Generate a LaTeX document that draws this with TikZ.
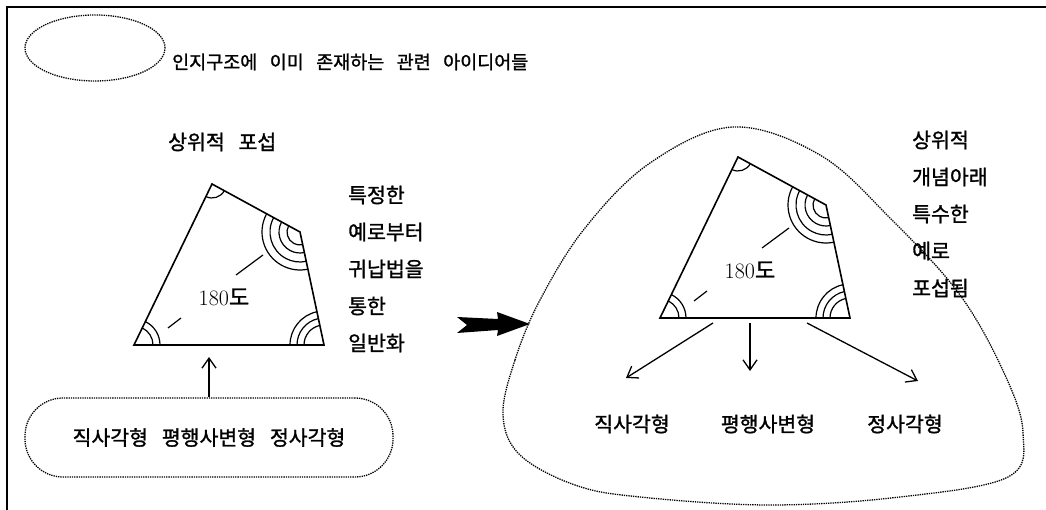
\documentclass[tikz,border=0pt]{standalone}
\usepackage{fontspec}
\newfontfamily\kr{Noto Sans CJK KR}[WordSpace=3, FakeBold=1.3]
\usetikzlibrary{angles, arrows.meta, shapes.geometric}

\tikzset{
	kortext/.style = {font = \kr\fontsize{20.5}{24}\selectfont, inner sep = 0pt},
	headtext/.style = {font = \kr\fontsize{18.5}{22}\selectfont, inner sep = 0pt},
	sumtext/.style = {font = \fontsize{22}{24}\selectfont, inner sep = 0pt},
	dots/.style = {densely dotted, line width = 1.3pt},
	edge/.style = {line width = 1.6pt},
	angmark/.style = {draw, line width = 1.2pt},
	pointer/.style = {->, line width = 1.3pt}
}

\begin{document}
\begin{tikzpicture}[x = 1pt, y = -1pt, >={Straight Barb[length = 10pt, width = 14pt]}]

	\useasboundingbox (0, 0) rectangle (1046, 510);

	% Frame
	
	\draw [edge] (7, 510) -- (7, 7) -- (1046, 7);
	
	% Legend
	
	\node [ellipse, draw, dots, minimum width = 140pt, minimum height = 66pt, inner sep = 0pt] (legend) at (95, 48) {};
	\node [headtext, anchor = west] (legendtext) at (172, 62) {인지구조에 이미 존재하는 관련 아이디어들};
	
	% Quadrilaterals with angle marks
	
	\foreach \s/\dx/\dy in {L/0/0, R/526/-27}
	{
		\begin{scope}[shift = {(\dx, \dy)}]
			\coordinate (\s A) at (212, 184);
			\coordinate (\s B) at (300, 232);
			\coordinate (\s C) at (324, 345);
			\coordinate (\s D) at (134, 345);
			\draw [edge] (\s A) -- (\s B) -- (\s C) -- (\s D) -- cycle;
			\pic [angmark, angle radius = 14pt] {angle = \s D--\s A--\s B};
			\foreach \rad in {13, 21, 30, 38}
				\pic [angmark, angle radius = \rad pt] {angle = \s A--\s B--\s C};
			\foreach \rad in {20, 27, 34}
				\pic [angmark, angle radius = \rad pt] {angle = \s B--\s C--\s D};
			\foreach \rad in {19, 26}
				\pic [angmark, angle radius = \rad pt] {angle = \s C--\s D--\s A};
			\node [sumtext] (\s sum) at (224, 297) {180{\kr 도}};
			\draw [line width = 1.2pt] (236, 275) -- (263, 255);
			\draw [line width = 1.2pt] (168, 328) -- (181, 318);
		\end{scope}
	}
	
	% Left side: induction
	
	\node [kortext, anchor = west] (lefttitle) at (168, 142) {상위적 포섭};
	
	\foreach \t [count = \i] in {특정한, 예로부터, 귀납법을, 통한, 일반화}
		\node [kortext, anchor = west] (ind\i) at (348, {195 + 37 * (\i - 1)}) {\t};
	
	\node [draw, dots, rounded corners = 38pt, minimum width = 368pt, minimum height = 79pt, kortext] (sub) at (209, 437.5) {직사각형 평행사변형 정사각형};
	
	\coordinate (Lbase) at (209, 357);
	\draw [pointer] (sub.north) -- (Lbase);
	
	% Big arrow
	
	\fill (457, 317) -- (467, 325) -- (457, 333) -- (498, 330) -- (497, 336) -- (530, 324) -- (497, 312) -- (498, 319) -- cycle;
	
	% Right side: subsumption
	
	\draw [dots] plot [smooth cycle, tension = 0.6] coordinates {
		(503, 415) (515, 360) (540, 300) (585, 228) (650, 163) (733, 127)
		(820, 155) (890, 218) (960, 295) (1005, 375) (1023, 433) (1008, 477)
		(900, 497) (770, 505) (640, 497) (575, 485) (520, 455)};
	
	\foreach \t [count = \i] in {상위적, 개념아래, 특수한, 예로, 포섭됨}
		\node [kortext, anchor = west] (ded\i) at (912, {140 + 37 * (\i - 1)}) {\t};
	
	\node [kortext] (rect) at (632, 424) {직사각형};
	\node [kortext] (para) at (768, 424) {평행사변형};
	\node [kortext] (square) at (905, 424) {정사각형};
	
	\coordinate (rectFrom) at (713, 323);
	\coordinate (paraFrom) at (750, 323);
	\coordinate (squareFrom) at (807, 323);
	\coordinate (rectTip) at (626, 378);
	\coordinate (paraTip) at (750, 371);
	\coordinate (squareTip) at (918, 381);
	
	\draw [pointer] (rectFrom) -- (rectTip);
	\draw [pointer] (paraFrom) -- (paraTip);
	\draw [pointer] (squareFrom) -- (squareTip);

\end{tikzpicture}
\end{document}
